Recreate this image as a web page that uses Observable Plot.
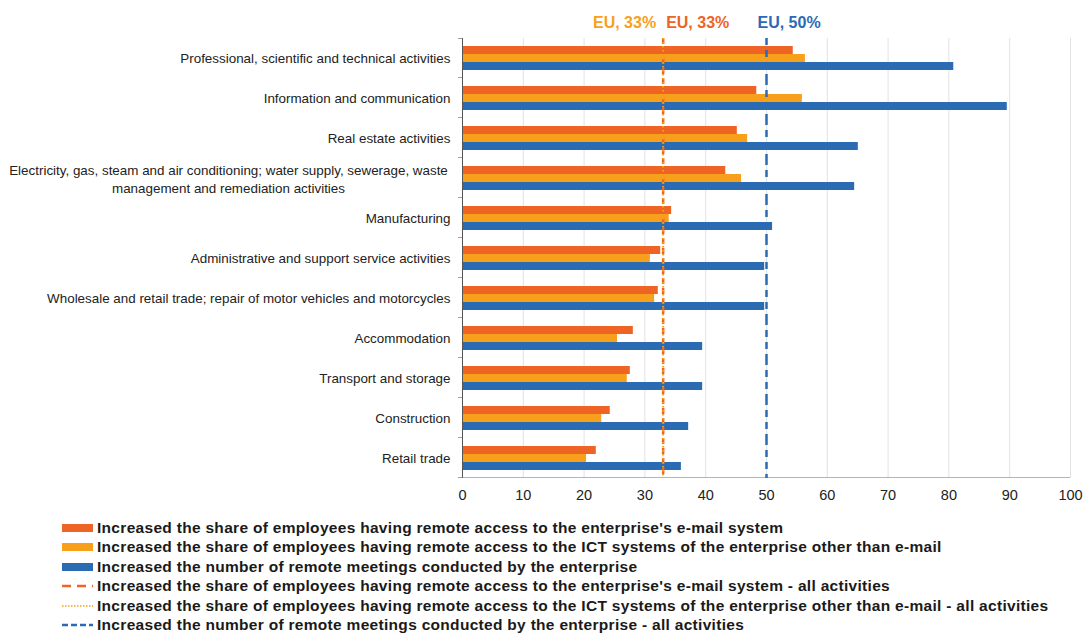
<!DOCTYPE html>
<html>
<head>
<meta charset="utf-8">
<script src="https://cdn.jsdelivr.net/npm/d3@7"></script>
<script src="https://cdn.jsdelivr.net/npm/@observablehq/plot@0.6"></script>
<style>
  html, body { margin: 0; padding: 0; background: #fff; }
  #chart { width: 1083px; }
  .legend { margin: 2px 0 0 62px; font-family: "Liberation Sans", Arial, sans-serif; font-weight: bold; font-size: 15.5px; letter-spacing: 0.3px; color: #1a1a1a; }
  .legend .row { display: flex; align-items: center; height: 19.5px; white-space: nowrap; }
  .legend svg { margin-right: 4px; flex: none; }
</style>
</head>
<body>
<div id="chart"></div>
<script>
const categories = [
  "Professional, scientific and technical activities",
  "Information and communication",
  "Real estate activities",
  "Electricity, gas, steam and air conditioning; water supply, sewerage, waste\nmanagement and remediation activities",
  "Manufacturing",
  "Administrative and support service activities",
  "Wholesale and retail trade; repair of motor vehicles and motorcycles",
  "Accommodation",
  "Transport and storage",
  "Construction",
  "Retail trade"
];
const emailValues   = [54.4, 48.4, 45.2, 43.3, 34.4, 32.6, 32.2, 28.1, 27.6, 24.3, 22.0];
const ictValues     = [56.4, 55.9, 46.9, 45.9, 34.0, 30.9, 31.6, 25.5, 27.1, 22.9, 20.4];
const meetingValues = [80.8, 89.6, 65.1, 64.5, 51.0, 49.7, 49.7, 39.5, 39.5, 37.2, 36.0];
const seriesNames = [
  "Increased the share of employees having remote access to the enterprise's e-mail system",
  "Increased the share of employees having remote access to the ICT systems of the enterprise other than e-mail",
  "Increased the number of remote meetings conducted by the enterprise"
];
const euSeriesNames = [
  "Increased the share of employees having remote access to the enterprise's e-mail system - all activities",
  "Increased the share of employees having remote access to the ICT systems of the enterprise other than e-mail - all activities",
  "Increased the number of remote meetings conducted by the enterprise - all activities"
];
const euValues = [33, 33, 50];
const euLabels = ["EU, 33%", "EU, 33%", "EU, 50%"];
const xTicks = [0, 10, 20, 30, 40, 50, 60, 70, 80, 90, 100];
const colors = ["#EE6424", "#F8A01C", "#2B6BB4"];

const seriesValues = [emailValues, ictValues, meetingValues];
const rows = categories.flatMap((c, i) =>
  seriesNames.map((s, j) => ({category: c, series: s, value: seriesValues[j][i]})));

const euRows = euValues.map((v, i) => ({value: v, label: euLabels[i], category: categories[0], series: seriesNames[0]}));
const catRows = categories.map(c => ({category: c}));
const multiLine = categories.filter(c => c.includes("\n"));
const singleLine = categories.filter(c => !c.includes("\n"));

const H = 516, MT = 35, MB = 36;
const facetH = (H - MT - MB) / categories.length;

const chart = Plot.plot({
  width: 1083,
  height: H,
  marginLeft: 462,
  marginRight: 13,
  marginTop: MT,
  marginBottom: MB,
  style: {fontFamily: "'Liberation Sans', Arial, sans-serif", fontSize: "13.4px", color: "#222", background: "#fff"},
  x: {domain: [0, 100], ticks: xTicks},
  y: {domain: seriesNames, axis: null, paddingInner: 0.03, paddingOuter: 0.78},
  fy: {domain: categories, padding: 0, axis: null, label: null},
  color: {domain: seriesNames, range: colors},
  marks: [
    Plot.gridX(xTicks.slice(1), {stroke: "#e2e2e2", strokeOpacity: 1}),
    Plot.barX(rows, {x: "value", y: "series", fy: "category", fill: "series"}),
    Plot.ruleX([0], {stroke: "#555"}),
    // small ticks on the category axis at group boundaries
    Plot.rect(catRows, {fy: "category", x1: 0, x2: 0, insetLeft: -4, insetTop: facetH - 1, fill: "#555"}),
    Plot.rect(catRows.slice(0, 1), {fy: "category", x1: 0, x2: 0, insetLeft: -4, insetBottom: facetH - 1, fill: "#555"}),
    // bottom axis line
    Plot.rect(catRows.slice(-1), {fy: "category", x1: 0, x2: 100, fill: "#777", insetTop: facetH - 1}),
    Plot.axisFy({ticks: singleLine, anchor: "left", tickSize: 0, tickPadding: 12, label: null, fontSize: 13.4, fill: "#222"}),
    Plot.axisFy({ticks: multiLine, anchor: "left", tickSize: 0, tickPadding: 234, textAnchor: "middle", label: null, fontSize: 13.4, lineHeight: 1.3, fill: "#222"}),
    Plot.axisX({ticks: xTicks, tickSize: 0, tickPadding: 11, fontSize: 14.5, label: null, fill: "#222"}),
    Plot.ruleX([euValues[0]], {stroke: colors[0], strokeWidth: 2.5, strokeDasharray: "6,4"}),
    Plot.ruleX([euValues[1]], {stroke: colors[1], strokeWidth: 2, strokeDasharray: "1.5,2.5"}),
    Plot.ruleX([euValues[2]], {stroke: colors[2], strokeWidth: 2.5, strokeDasharray: "7,5"}),
    Plot.text([euRows[1]], {x: "value", y: "series", fy: "category", text: "label", fill: colors[1], dy: -28, dx: -7, textAnchor: "end", fontWeight: "bold", fontSize: 16}),
    Plot.text([euRows[0]], {x: "value", y: "series", fy: "category", text: "label", fill: colors[0], dy: -28, dx: 3, textAnchor: "start", fontWeight: "bold", fontSize: 16}),
    Plot.text([euRows[2]], {x: "value", y: "series", fy: "category", text: "label", fill: colors[2], dy: -28, dx: -9, textAnchor: "start", fontWeight: "bold", fontSize: 16})
  ]
});
document.getElementById("chart").appendChild(chart);

// legend
const legend = d3.select("#chart").append("div").attr("class", "legend");
const legendItems = [
  ...seriesNames.map((s, i) => ({text: s, color: colors[i], type: "bar"})),
  {text: euSeriesNames[0], color: colors[0], type: "dash", dash: "9,6", width: 2.5},
  {text: euSeriesNames[1], color: colors[1], type: "dash", dash: "1.5,1.5", width: 1.5},
  {text: euSeriesNames[2], color: colors[2], type: "dash", dash: "6,3", width: 2.5}
];
for (const item of legendItems) {
  const row = legend.append("div").attr("class", "row");
  const svg = row.append("svg").attr("width", 31).attr("height", 12);
  if (item.type === "bar") {
    svg.append("rect").attr("x", 0).attr("y", 2).attr("width", 31).attr("height", 8).attr("fill", item.color);
  } else {
    svg.append("line").attr("x1", 0).attr("x2", 31).attr("y1", 6).attr("y2", 6)
      .attr("stroke", item.color).attr("stroke-width", item.width).attr("stroke-dasharray", item.dash);
  }
  row.append("span").text(item.text);
}
</script>
</body>
</html>
